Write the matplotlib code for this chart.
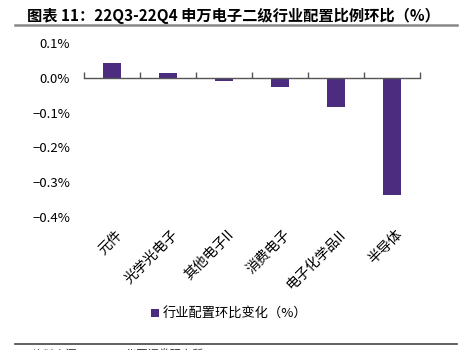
import matplotlib
matplotlib.use("Agg")
import matplotlib.pyplot as plt
from matplotlib.lines import Line2D
from matplotlib.patches import Patch
import numpy as np

plt.rcParams["font.family"] = ["Noto Sans CJK SC", "DejaVu Sans"]
plt.rcParams["axes.unicode_minus"] = True

categories = ["元件", "光学光电子", "其他电子II", "消费电子", "电子化学品II", "半导体"]
changes = [0.043, 0.015, -0.009, -0.027, -0.083, -0.338]
yticks = [0.1, 0.0, -0.1, -0.2, -0.3, -0.4]
ytick_labels = ["0.1%", "0.0%", "\u22120.1%", "\u22120.2%", "\u22120.3%", "\u22120.4%"]
title = "图表 11：22Q3-22Q4 申万电子二级行业配置比例环比（%）"
legend_label = "行业配置环比变化（%）"
source = "资料来源：Wind，华西证券研究所"

bar_color = "#4b2c7f"

fig = plt.figure(figsize=(4.59, 3.5), dpi=100)
ax = fig.add_axes([0.183, 0.38, 0.732, 0.497])

x = np.arange(len(categories))
ax.bar(x, changes, width=0.33, color=bar_color, zorder=3)

ax.set_xlim(-0.5, len(categories) - 0.5)
ax.set_ylim(-0.4, 0.1)
ax.set_yticks(yticks)
ax.set_yticklabels(ytick_labels, fontsize=9.5)
ax.tick_params(axis="y", length=0, pad=10)

for s in ["top", "right", "left"]:
    ax.spines[s].set_visible(False)
ax.spines["bottom"].set_position(("data", 0))
ax.spines["bottom"].set_color("#555555")
ax.spines["bottom"].set_linewidth(1.0)
ax.spines["bottom"].set_zorder(4)

ax.set_xticks(x)
ax.set_xticklabels([])
ax.tick_params(axis="x", which="major", length=0)
ax.set_xticks(np.arange(len(categories) + 1) - 0.5, minor=True)
ax.tick_params(axis="x", which="minor", direction="in", length=4, color="#555555", width=1.0)

for xi, lab in zip(x, categories):
    ax.text(xi + 0.05, -0.43, lab, rotation=45, ha="right", va="top",
            rotation_mode="anchor", fontsize=10, transform=ax.transData, clip_on=False)

fig.text(0.058, 0.955, title, fontsize=11, fontweight="bold", va="center", ha="left")
fig.add_artist(Line2D([0.033, 0.995], [0.93, 0.93], color="#888888", lw=1.8))
fig.add_artist(Line2D([0.033, 0.995], [0.017, 0.017], color="#444444", lw=1.2))
fig.text(0.07, -0.012, source, fontsize=8, va="center", ha="left", color="#333333")

handles = [Patch(facecolor=bar_color, edgecolor="none")]
fig.legend(handles, [legend_label], loc="center", bbox_to_anchor=(0.5, 0.102),
           frameon=False, fontsize=9.5, handlelength=0.6, handleheight=0.6, handletextpad=0.3)

fig.savefig("out.png", dpi=100)
